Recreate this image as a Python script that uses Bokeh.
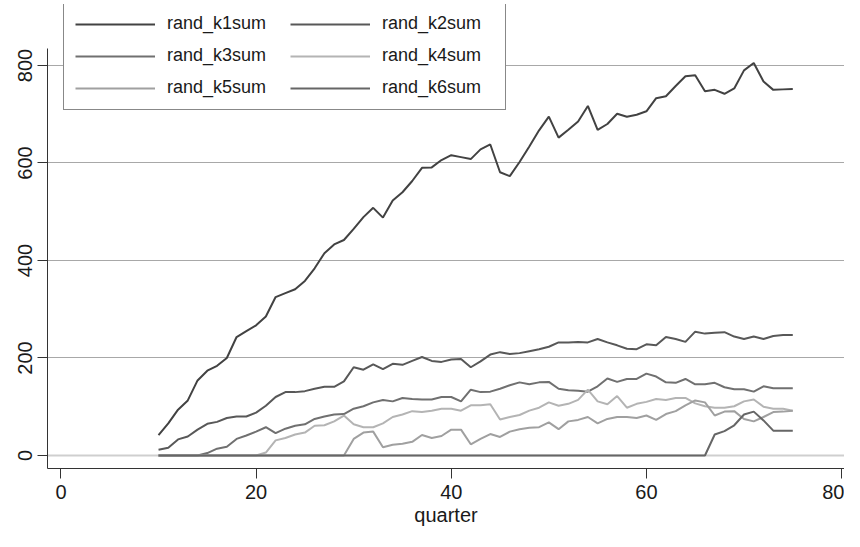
from bokeh.plotting import figure
from bokeh.models import Range1d, FixedTicker, Span, Legend, LegendItem
from bokeh.embed import file_html
from bokeh.resources import INLINE

quarter = [10, 11, 12, 13, 14, 15, 16, 17, 18, 19, 20, 21, 22, 23, 24, 25, 26, 27, 28, 29,
           30, 31, 32, 33, 34, 35, 36, 37, 38, 39, 40, 41, 42, 43, 44, 45, 46, 47, 48, 49,
           50, 51, 52, 53, 54, 55, 56, 57, 58, 59, 60, 61, 62, 63, 64, 65, 66, 67, 68, 69,
           70, 71, 72, 73, 74, 75]

rand_k1sum = [42, 66, 94, 113, 154, 174, 184, 200, 243, 255, 267, 285, 325, 333, 341, 358, 384, 415, 433, 442,
              465, 489, 508, 488, 523, 540, 563, 590, 591, 606, 616, 612, 608, 628, 638, 581, 573, 602, 634, 667,
              695, 652, 668, 685, 717, 668, 680, 701, 695, 699, 706, 733, 737, 758, 778, 780, 747, 750, 742, 753,
              790, 805, 767, 750, 751, 752]
rand_k2sum = [12, 16, 33, 39, 53, 65, 69, 77, 80, 80, 88, 102, 120, 130, 130, 132, 137, 141, 141, 152,
              181, 176, 187, 177, 188, 186, 194, 202, 194, 192, 197, 198, 181, 193, 207, 212, 208, 210, 214, 218,
              223, 232, 232, 233, 232, 239, 232, 226, 219, 218, 228, 226, 243, 239, 233, 254, 250, 252, 253, 244,
              239, 244, 239, 245, 247, 247]
rand_k3sum = [0, 0, 0, 0, 0, 5, 14, 18, 34, 41, 49, 58, 46, 55, 61, 64, 75, 80, 84, 85,
              96, 101, 109, 114, 111, 118, 116, 115, 115, 120, 120, 111, 135, 130, 131, 137, 144, 150, 146, 150,
              151, 137, 134, 133, 131, 142, 158, 151, 157, 157, 168, 162, 150, 149, 157, 146, 146, 149, 140, 136,
              136, 131, 142, 138, 138, 138]
rand_k4sum = [0, 0, 0, 0, 0, 0, 0, 0, 0, 0, 0, 6, 31, 36, 43, 47, 61, 62, 70, 82,
              64, 58, 58, 66, 79, 84, 91, 89, 92, 96, 96, 92, 103, 103, 105, 74, 79, 83, 92, 98,
              109, 102, 106, 114, 135, 111, 105, 122, 98, 106, 110, 116, 114, 118, 118, 107, 101, 98, 98, 101,
              111, 115, 100, 96, 96, 92]
rand_k5sum = [0, 0, 0, 0, 0, 0, 0, 0, 0, 0, 0, 0, 0, 0, 0, 0, 0, 0, 0, 0,
              34, 47, 49, 17, 22, 24, 28, 42, 36, 40, 53, 53, 23, 34, 44, 38, 49, 54, 57, 58,
              68, 54, 70, 73, 79, 66, 75, 79, 79, 77, 82, 73, 85, 91, 103, 113, 109, 82, 90, 91,
              75, 70, 79, 89, 90, 92]
rand_k6sum = [0, 0, 0, 0, 0, 0, 0, 0, 0, 0, 0, 0, 0, 0, 0, 0, 0, 0, 0, 0,
              0, 0, 0, 0, 0, 0, 0, 0, 0, 0, 0, 0, 0, 0, 0, 0, 0, 0, 0, 0,
              0, 0, 0, 0, 0, 0, 0, 0, 0, 0, 0, 0, 0, 0, 0, 0, 0, 43, 50, 62,
              84, 90, 72, 51, 51, 51]

series_names = ["rand_k1sum", "rand_k2sum", "rand_k3sum", "rand_k4sum", "rand_k5sum", "rand_k6sum"]
series_values = [rand_k1sum, rand_k2sum, rand_k3sum, rand_k4sum, rand_k5sum, rand_k6sum]
series_colors = ["#424242", "#585858", "#707070", "#b4b4b4", "#a0a0a0", "#666666"]

x_ticks = [0, 20, 40, 60, 80]
y_ticks = [0, 200, 400, 600, 800]
grid_ticks = [200, 400, 600, 800]

FONT = "Liberation Sans"

Y_LO, Y_AXIS_TOP, Y_HI = -26.67, 834.9, 925.1
X_LO, X_HI = -1.378, 80.3

p = figure(width=844, height=531, output_backend="svg", toolbar_location=None,
           x_range=Range1d(X_LO, X_HI), y_range=Range1d(Y_LO, Y_HI),
           min_border_left=47, min_border_right=0, min_border_top=4, min_border_bottom=63)
p.outline_line_color = None
p.background_fill_color = "white"
p.border_fill_color = "white"

for ax in (p.xaxis[0], p.yaxis[0]):
    ax.axis_line_color = "#333333"
    ax.axis_line_width = 1
    ax.major_tick_line_color = "#333333"
    ax.major_tick_out = 10
    ax.major_tick_in = 0
    ax.minor_tick_out = 0
    ax.minor_tick_in = 0
    ax.major_label_text_font = FONT
    ax.major_label_text_font_size = "20px"
    ax.major_label_text_color = "#1a1a1a"
    ax.major_label_standoff = 5

p.yaxis.bounds = (Y_LO, Y_AXIS_TOP)
p.xaxis.ticker = FixedTicker(ticks=x_ticks)
p.yaxis.ticker = FixedTicker(ticks=y_ticks)
p.yaxis.major_label_orientation = "vertical"
p.xaxis.major_label_standoff = 6
p.xaxis.axis_label = "quarter"
p.xaxis.axis_label_text_font = FONT
p.xaxis.axis_label_text_font_size = "20px"
p.xaxis.axis_label_text_font_style = "normal"
p.xaxis.axis_label_text_color = "#1a1a1a"
p.xaxis.axis_label_standoff = 2

p.xgrid.visible = False
p.ygrid.ticker = FixedTicker(ticks=grid_ticks)
p.ygrid.grid_line_color = "#a8a8a8"
p.ygrid.grid_line_width = 1

zero = Span(location=0, dimension="width", line_color="#cfcfcf", line_width=2, level="underlay")
p.add_layout(zero)

items = []
for name, vals, col in zip(series_names, series_values, series_colors):
    r = p.line(quarter, vals, line_color=col, line_width=2)
    items.append(LegendItem(label=name, renderers=[r]))

legend = Legend(items=items, location=(16, 358), orientation="horizontal", ncols=2,
                glyph_width=80, glyph_height=20, label_height=20, label_width=112,
                label_standoff=12, spacing=11, padding=11, margin=0,
                label_text_font=FONT, label_text_font_size="18px", label_text_color="#1a1a1a",
                border_line_color="#111111", border_line_width=1,
                background_fill_color="white", background_fill_alpha=1.0)
p.add_layout(legend)

open("out.html", "w").write(file_html(p, INLINE))
